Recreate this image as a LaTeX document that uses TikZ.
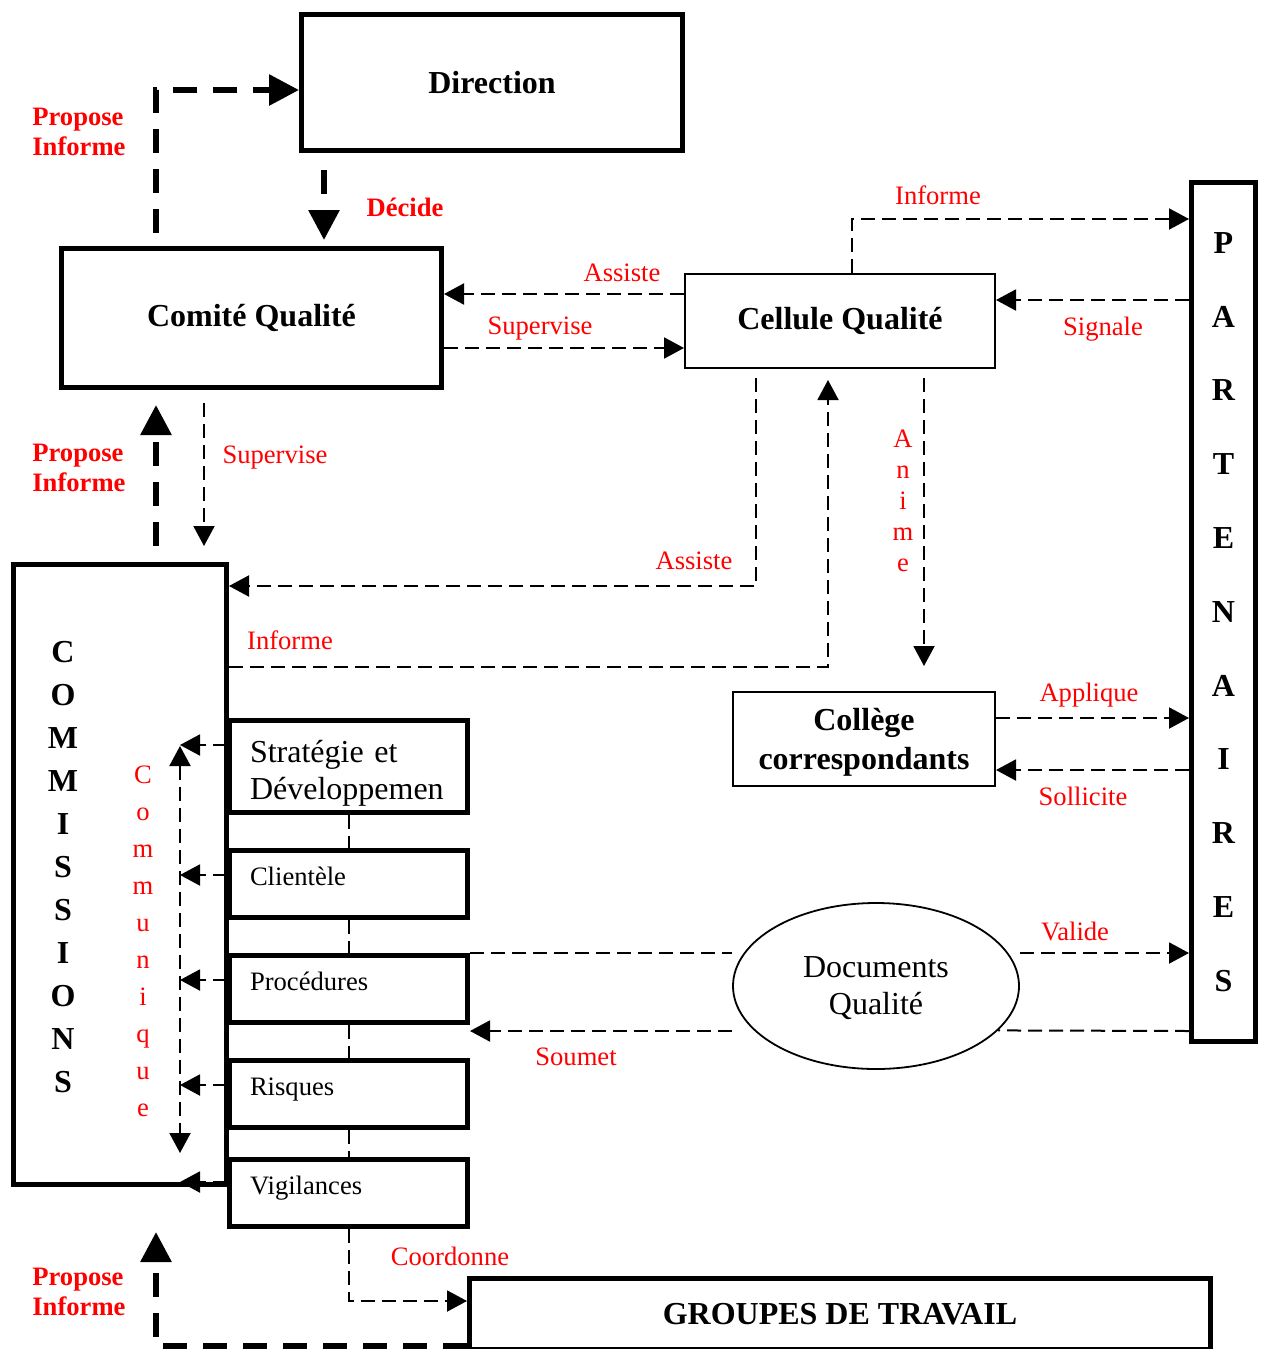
\documentclass[tikz,border=0pt]{standalone}
\usepackage{fontspec}
\setmainfont{Liberation Serif}
\usetikzlibrary{arrows.meta,shapes.geometric}

\begin{document}
\begin{tikzpicture}[x=0.5pt,y=-0.5pt,
  box/.style={draw,line width=2.5pt,font=\fontsize{16}{19}\selectfont\bfseries},
  thinbox/.style={draw,line width=1pt,align=center,font=\fontsize{16}{19.5}\selectfont\bfseries},
  subbox/.style={draw,line width=2.5pt,minimum height=33.5pt,text width=98.5pt,inner xsep=10.25pt,align=left,font=\fontsize{13.3}{16}\selectfont},
  oneline/.style={text height=9.2pt,text depth=7.4pt},
  column/.style={align=center,inner sep=0pt},
  lbl/.style={text=red,font=\fontsize{13.3}{16}\selectfont},
  blbl/.style={text=red,anchor=west,align=left,inner sep=0pt,font=\fontsize{13.3}{15}\selectfont\bfseries},
  link/.style={line width=1pt,dash pattern=on 7pt off 3.5pt},
  flow/.style={link,-{Triangle[length=10pt,width=10.5pt]}},
  bigflow/.style={line width=3pt,dash pattern=on 12pt off 8pt,-{Triangle[length=15pt,width=15pt]}}
]
\useasboundingbox (0,0) rectangle (1261,1349);

% boites
\node[box,minimum width=190.5pt,minimum height=68pt] (direction) at (492,82.5) {Direction};
\node[box,minimum width=190pt,minimum height=69.5pt] (comite) at (251.5,318) {Comité Qualité};
\node[thinbox,minimum width=155pt,minimum height=47pt] (cellule) at (840,321) {Cellule Qualité};
\node[box,minimum width=32pt,minimum height=429.5pt,align=center,font=\fontsize{16}{36.9}\selectfont\bfseries]
  (partenaires) at (1223.5,612) {P\\A\\R\\T\\E\\N\\A\\I\\R\\E\\S};
\node[box,minimum width=106.5pt,minimum height=310pt] (commissions) at (120,874.5) {};
\node[column,font=\fontsize{16}{21.5}\selectfont\bfseries] (commtxt) at (63,867) {C\\O\\M\\M\\I\\S\\S\\I\\O\\N\\S};
\node[thinbox,minimum width=131pt,minimum height=47pt,text depth=-1pt] (college) at (864,739) {Collège\\correspondants};
\node[ellipse,draw,line width=0.9pt,minimum width=143pt,minimum height=83pt,align=center,text depth=-1pt,
  font=\fontsize{16}{18.5}\selectfont] (docs) at (876,986) {Documents\\Qualité};
\node[subbox,minimum height=46pt,text height=17.5pt,font=\fontsize{16}{18.5}\selectfont] (strat) at (348.5,766.5) {Stratégie et\\Développemen};
\node[subbox,oneline] (client) at (348.5,884) {Clientèle};
\node[subbox,oneline] (proced) at (348.5,989) {Procédures};
\node[subbox,oneline] (risq) at (348.5,1094) {Risques};
\node[subbox,oneline] (vigil) at (348.5,1193) {Vigilances};
\node[box,minimum width=370.5pt,minimum height=35.5pt] (groupes) at (840,1314) {GROUPES DE TRAVAIL};

\coordinate (commtop) at (180,746);
\coordinate (commbot) at (180,1153);

% Comite - Direction
\draw[bigflow,shorten <=6.5pt] (comite.north -| 156,0) |- (direction.west |- 0,90);
\draw[bigflow,shorten <=8.5pt,shorten >=3pt] (direction.south -| 324,0) -- (comite.north -| 324,0);
% Comite - Cellule
\draw[flow] (cellule.west |- 0,294) -- (comite.east |- 0,294);
\draw[flow] (comite.east |- 0,348) -- (cellule.west |- 0,348);
% Cellule - Partenaires
\draw[flow] (cellule.north -| 852,0) |- (partenaires.west |- 0,219);
\draw[flow] (partenaires.west |- 0,300) -- (cellule.east |- 0,300);
% Comite - Commissions
\draw[flow,shorten <=6.5pt,shorten >=8pt] (comite.south -| 204,0) -- (commissions.north -| 204,0);
\draw[bigflow,shorten <=8pt,shorten >=7.5pt] (commissions.north -| 156,0) -- (comite.south -| 156,0);
% Cellule - Commissions
\draw[flow,shorten <=4.5pt] (cellule.south -| 756,0) |- (commissions.east |- 0,586);
\draw[flow,shorten >=5.5pt] (commissions.east |- 0,667) -| (cellule.south -| 828,0);
% Cellule - College - Partenaires
\draw[flow,shorten <=4.5pt,shorten >=12.5pt] (cellule.south -| 924,0) -- (college.north -| 924,0);
\draw[flow] (college.east |- 0,718) -- (partenaires.west |- 0,718);
\draw[flow] (partenaires.west |- 0,770) -- (college.east |- 0,770);
% Documents qualite
\draw[link] (proced.north east) -- (docs.west |- 0,953);
\draw[flow] (docs.east |- 0,953) -- (partenaires.west |- 0,953);
\draw[link] (partenaires.west |- 0,1031) -- (docs.-20);
\draw[flow] (docs.west |- 0,1031) -- (proced.east |- 0,1031);
% sous-commissions
\foreach \n/\y in {strat/745,client/875,proced/980,risq/1085,vigil/1182}
  \draw[flow] (\n.west |- 0,\y) -- (commtop |- 0,\y);
\draw[flow,{Triangle[length=10pt,width=10.5pt]}-{Triangle[length=10pt,width=10.5pt]}] (commtop) -- (commbot);
\foreach \a/\b in {strat/client,client/proced,proced/risq,risq/vigil}
  \draw[link] (\a.south) -- (\b.north);
% Groupes de travail
\draw[flow] (vigil.south) |- (groupes.west |- 0,1301);
\draw[bigflow,shorten >=22.5pt] (groupes.west |- 0,1346) -| (commissions.south -| 156,0);

% etiquettes
\node[blbl] (l-dir) at (32,132) {Propose\\Informe};
\node[blbl] (l-com) at (32,468) {Propose\\Informe};
\node[blbl] (l-grp) at (32,1292) {Propose\\Informe};
\node[text=red,font=\fontsize{13.3}{16}\selectfont\bfseries] (l-decide) at (405,207) {Décide};
\node[lbl] (l-informe1) at (938,195) {Informe};
\node[lbl] (l-assiste1) at (622,273) {Assiste};
\node[lbl] (l-supervise1) at (540,329) {Supervise};
\node[lbl] (l-signale) at (1103,329) {Signale};
\node[lbl] (l-supervise2) at (275,458) {Supervise};
\node[lbl] (l-assiste2) at (694,561) {Assiste};
\node[lbl] (l-informe2) at (290,640) {Informe};
\node[lbl] (l-applique) at (1089,695) {Applique};
\node[lbl] (l-sollicite) at (1083,796) {Sollicite};
\node[lbl] (l-valide) at (1075,931) {Valide};
\node[lbl] (l-soumet) at (576,1057) {Soumet};
\node[lbl] (l-coordonne) at (450,1256) {Coordonne};
\node[column,text=red,font=\fontsize{13.3}{15.5}\selectfont] (l-anime) at (903,500.5) {A\\n\\i\\m\\e};
\node[column,text=red,font=\fontsize{13.3}{18.5}\selectfont] (l-communique) at (143,941.5) {C\\o\\m\\m\\u\\n\\i\\q\\u\\e};
\end{tikzpicture}
\end{document}
